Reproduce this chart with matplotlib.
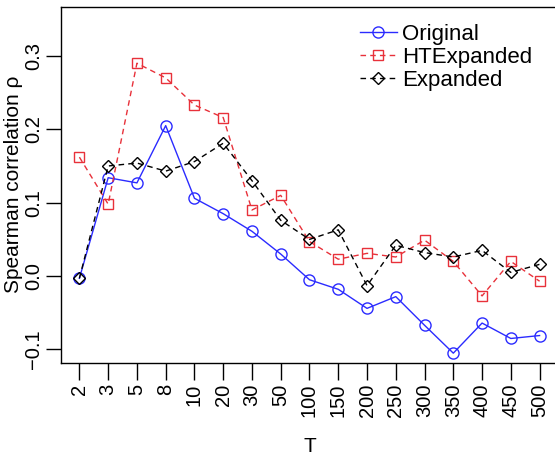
import matplotlib
matplotlib.use("Agg")
import matplotlib.pyplot as plt

plt.rcParams['font.family'] = ['Liberation Sans', 'DejaVu Sans']

t_labels = ["2", "3", "5", "8", "10", "20", "30", "50", "100", "150",
            "200", "250", "300", "350", "400", "450", "500"]
original = [-0.003, 0.134, 0.127, 0.205, 0.106, 0.085, 0.061, 0.030, -0.005,
            -0.018, -0.044, -0.028, -0.067, -0.105, -0.064, -0.085, -0.081]
ht_expanded = [0.162, 0.098, 0.290, 0.270, 0.233, 0.216, 0.090, 0.110, 0.047,
               0.023, 0.031, 0.026, 0.049, 0.020, -0.027, 0.020, -0.007]
expanded = [-0.003, 0.150, 0.154, 0.143, 0.156, 0.181, 0.130, 0.076, 0.050,
            0.063, -0.013, 0.042, 0.032, 0.026, 0.035, 0.005, 0.016]

x = list(range(1, len(t_labels) + 1))

fig = plt.figure(figsize=(5.55, 4.54), dpi=100)
ax = fig.add_axes([61 / 555, (454 - 362.7) / 454, 497 / 555, 356 / 454])

ax.plot(x, original, color='#2b2bff', lw=1.0, marker='o', ms=8,
        mfc='none', mew=1.0, label='Original')
ax.plot(x, ht_expanded, color='#e8313a', lw=1.0, ls=(0, (4, 3)), marker='s', ms=7,
        mfc='none', mew=1.0, label='HTExpanded')
ax.plot(x, expanded, color='black', lw=1.0, ls=(0, (4, 3)), marker='D', ms=6.5,
        mfc='none', mew=1.0, label='Expanded')

ax.set_xlim(0.36, 17.64)
ax.set_ylim(-0.118, 0.367)
ax.set_xticks(x)
ax.set_xticklabels(t_labels, rotation=90, fontsize=14.5)
ax.set_yticks([-0.1, 0.0, 0.1, 0.2, 0.3])
ax.set_yticklabels(["\u22120.1", "0.0", "0.1", "0.2", "0.3"], rotation=90,
                   va='center', fontsize=14.5)
ax.tick_params(axis='x', direction='out', length=12, width=1.0, pad=3)
ax.tick_params(axis='y', direction='out', length=11, width=1.0, pad=2)

ax.set_xlabel('T', fontsize=15)
ax.set_ylabel('Spearman correlation \u03c1', fontsize=15)
ax.xaxis.label.set_va('center')
ax.xaxis.set_label_coords(0.5, -83.3 / 356, transform=ax.transAxes)
ax.yaxis.set_label_coords(-38 / 497, 0.5, transform=ax.transAxes)

for s in ax.spines.values():
    s.set_linewidth(1.0)

ax.legend(loc='upper left', bbox_to_anchor=(0.57, 0.995), frameon=False,
          fontsize=16, handlelength=1.65, handletextpad=0.25, labelspacing=0.08,
          borderpad=0.2)

fig.savefig('out.png', dpi=100)
